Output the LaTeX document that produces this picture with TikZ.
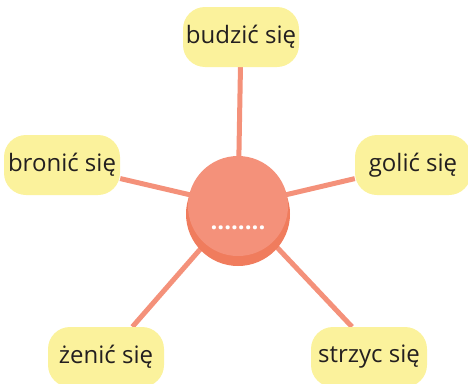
\documentclass[tikz,border=0pt]{standalone}
\usepackage{fontspec}
\setmainfont{Open Sans}
\usetikzlibrary{positioning,backgrounds,calc}
\definecolor{zolty}{HTML}{FBF29C}
\definecolor{losos}{HTML}{F4917A}
\definecolor{ciemny}{HTML}{F07C5D}
\definecolor{tekst}{HTML}{231F20}
\tikzset{
  slowo/.style={rounded corners=22pt,fill=zolty,minimum width=116pt,minimum height=60pt,
    inner sep=0pt,text=tekst,font=\fontsize{24}{28}\selectfont},
  kolo/.style={circle,fill=losos,minimum size=100pt,inner sep=0pt},
  ramie/.style={draw=losos,line width=5pt},
}

\begin{document}
\begin{tikzpicture}[x=1pt,y=-1pt]
  \useasboundingbox (0,0) rectangle (468,383);
  % srodek
  \node[kolo,fill=ciemny,minimum size=104pt] (cien) at (238,214) {};
  \node[kolo] (c) at (238,206) {};
  \node[text=white,font=\bfseries\fontsize{24}{28}\selectfont] (kropki) at (238,228) {........};
  % slowa
  \node[slowo] (budz) at (241,37) {budzić się};
  \node[slowo] (bron) at (62,165) {bronić się};
  \node[slowo] (goli) at (413,165) {golić się};
  \node[slowo] (zeni) at (106,357) {żenić się};
  \node[slowo] (strz) at (369,357) {strzyc się};
  \begin{scope}[on background layer]
    \draw[ramie] (c.center) -- (budz);
    \draw[ramie] (c.center) -- (bron);
    \draw[ramie] (c.center) -- (goli);
    \draw[ramie] (c.center) -- (zeni);
    \draw[ramie] (c.center) -- ([xshift=-17pt]strz.north);
  \end{scope}
\end{tikzpicture}
\end{document}
